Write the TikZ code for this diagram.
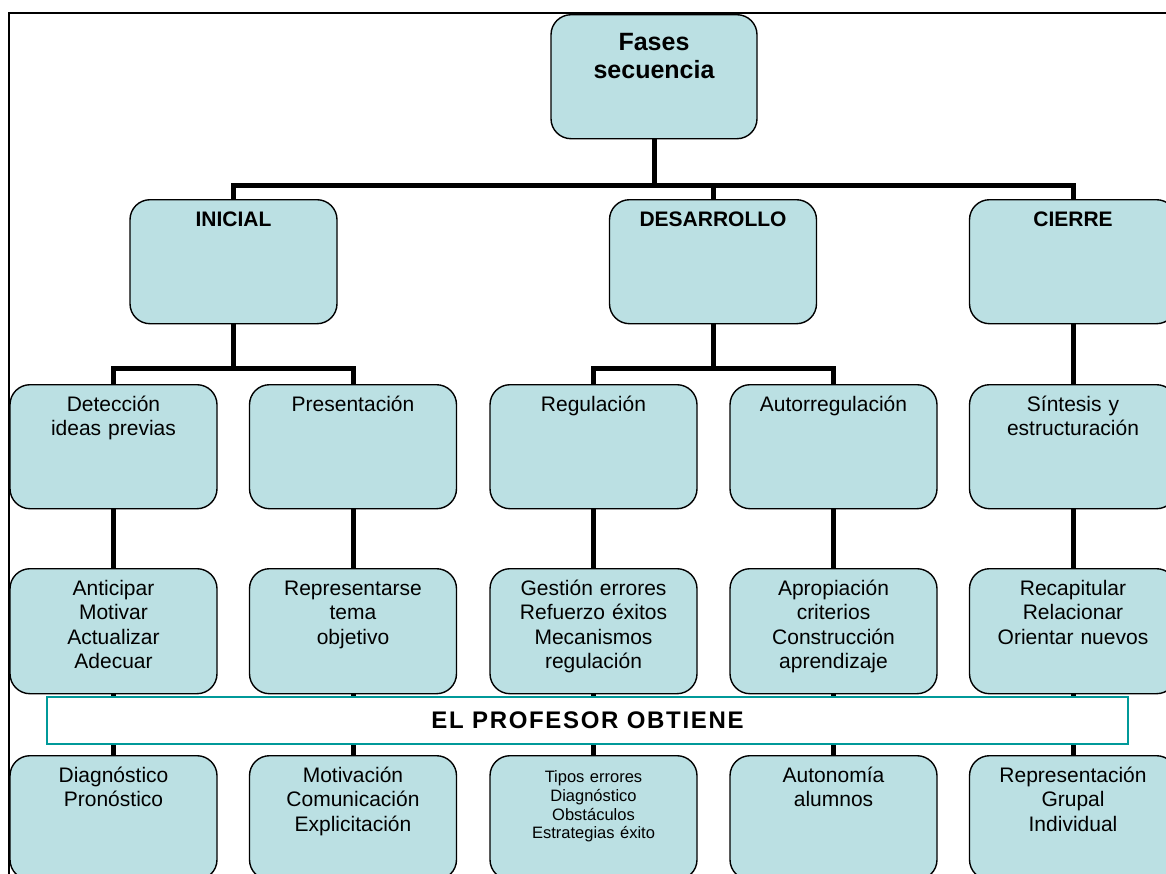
\documentclass[tikz,border=0pt]{standalone}
\usepackage{fontspec}
\setmainfont{Liberation Sans}
\usepackage{tikz}

\definecolor{fasefill}{RGB}{187,224,227}
\definecolor{obtienecol}{RGB}{0,153,153}

\tikzset{
    fase/.style={draw=black, fill=fasefill, line width=1.4pt, rounded corners=20pt,
        minimum width=207pt, minimum height=124pt, anchor=north, inner sep=0pt},
    lbl/.style={anchor=north, yshift=-7pt, align=center, text width=205pt, inner sep=0pt,
        font=\fontsize{21}{24.5}\selectfont, execute at begin node={\rule{0pt}{0.95em}}},
    titulo/.style={font=\bfseries\fontsize{21}{24.5}\selectfont},
    raiz/.style={font=\bfseries\fontsize{25}{28}\selectfont, yshift=-6pt},
    chico/.style={font=\fontsize{16.5}{18.7}\selectfont, yshift=-5pt},
    conn/.style={line width=5pt, black},
}

\begin{document}
\begin{tikzpicture}[x=1pt, y=-1pt]

    \useasboundingbox (0,0) rectangle (1166,873);
    \clip (0,0) rectangle (1166,873);

    % outer frame
    \draw[line width=1.5pt] (9,13) rectangle (1200,900);

    % boxes, level 0 and 1
    \node[fase, minimum width=206pt, label={[lbl, raiz]north:Fases\\secuencia}] (fases) at (654,14) {};
    \node[fase, label={[lbl, titulo]north:INICIAL}]    (ini) at (233.5,199) {};
    \node[fase, label={[lbl, titulo]north:DESARROLLO}] (des) at (713,199) {};
    \node[fase, label={[lbl, titulo]north:CIERRE}]     (cie) at (1073,199) {};

    % level 2
    \node[fase, label={[lbl]north:Detección\\ideas previas}]     (det) at (113.5,384) {};
    \node[fase, label={[lbl]north:Presentación}]                 (pre) at (353,384) {};
    \node[fase, label={[lbl]north:Regulación}]                   (reg) at (593.5,384) {};
    \node[fase, label={[lbl]north:Autorregulación}]              (aut) at (833.5,384) {};
    \node[fase, label={[lbl]north:Síntesis y\\estructuración}]   (sin) at (1073,384) {};

    % level 3
    \node[fase, minimum height=125pt, label={[lbl]north:Anticipar\\Motivar\\Actualizar\\Adecuar}] (ant) at (113.5,568) {};
    \node[fase, minimum height=125pt, label={[lbl]north:Representarse\\tema\\objetivo}] (rep) at (353,568) {};
    \node[fase, minimum height=125pt, label={[lbl]north:Gestión errores\\Refuerzo éxitos\\Mecanismos\\regulación}] (ges) at (593.5,568) {};
    \node[fase, minimum height=125pt, label={[lbl]north:Apropiación\\criterios\\Construcción\\aprendizaje}] (apr) at (833.5,568) {};
    \node[fase, minimum height=125pt, label={[lbl]north:Recapitular\\Relacionar\\Orientar nuevos}] (rec) at (1073,568) {};

    % level 4
    \node[fase, label={[lbl]north:Diagnóstico\\Pronóstico}] (dia) at (113.5,755) {};
    \node[fase, label={[lbl]north:Motivación\\Comunicación\\Explicitación}] (mot) at (353,755) {};
    \node[fase, label={[lbl, chico]north:Tipos errores\\Diagnóstico\\Obstáculos\\Estrategias éxito}] (tip) at (593.5,755) {};
    \node[fase, label={[lbl]north:Autonomía\\alumnos}] (ato) at (833.5,755) {};
    \node[fase, label={[lbl]north:Representación\\Grupal\\Individual}] (gru) at (1073,755) {};

    % connectors
    \draw[conn] (fases.south) -- ++(0,47);
    \draw[conn] (ini.north) -- ++(0,-14) -| (cie.north);
    \draw[conn] (des.north) -- ++(0,-14);

    \draw[conn] (ini.south) -- ++(0,45);
    \draw[conn] (det.north) -- ++(0,-16) -| (pre.north);
    \draw[conn] (des.south) -- ++(0,45);
    \draw[conn] (reg.north) -- ++(0,-16) -| (aut.north);
    \draw[conn] (cie.south) -- (sin.north);

    \foreach \a/\b in {det/ant, pre/rep, reg/ges, aut/apr, sin/rec,
                       ant/dia, rep/mot, ges/tip, apr/ato, rec/gru}
        \draw[conn] (\a.south) -- (\b.north);

    % band over the last connectors
    \node[draw=obtienecol, fill=white, line width=2pt, minimum width=1081pt, minimum height=47pt,
        inner sep=0pt, font=\bfseries\fontsize{24}{28}\selectfont\addfontfeature{LetterSpace=7}] (obtiene) at (587.5,720.5) {EL PROFESOR OBTIENE};

\end{tikzpicture}
\end{document}
